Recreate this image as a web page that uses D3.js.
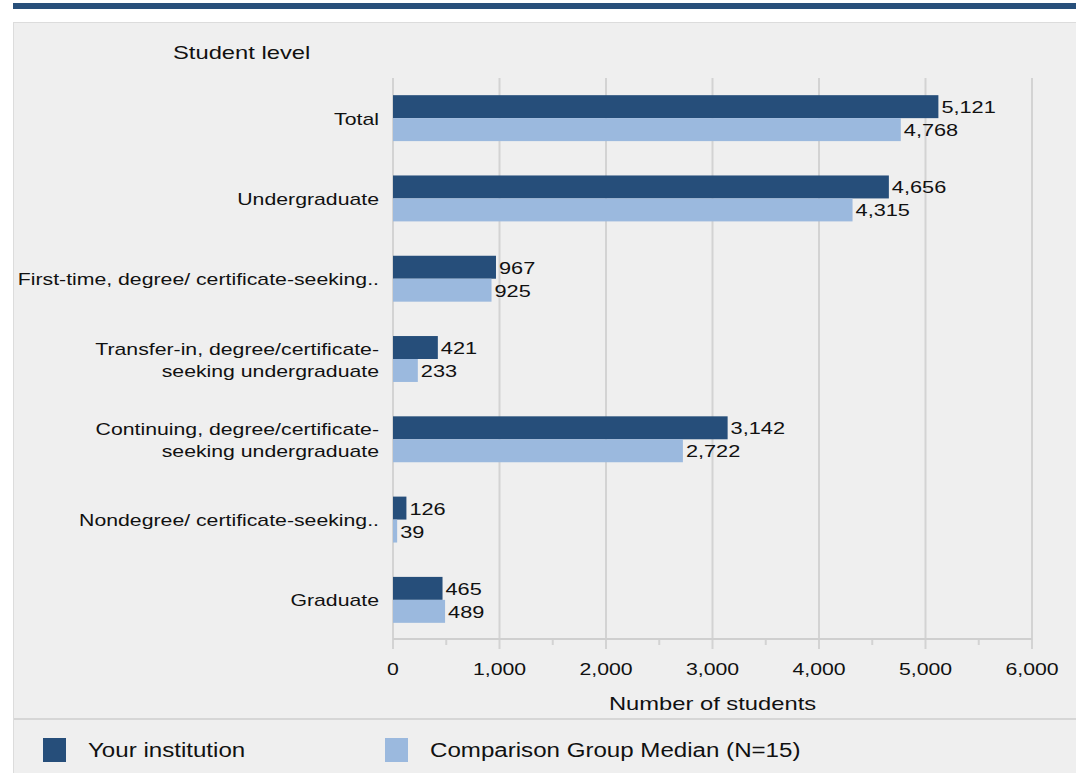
<!DOCTYPE html>
<html><head><meta charset="utf-8">
<script src="https://cdn.jsdelivr.net/npm/d3@7"></script>
<style>html,body{margin:0;padding:0;background:#fff;}svg{display:block;font-family:"Liberation Sans",Arial,sans-serif;}</style>
</head><body>
<script>
const categories = [
  ["Total"],
  ["Undergraduate"],
  ["First-time, degree/ certificate-seeking.."],
  ["Transfer-in, degree/certificate-", "seeking undergraduate"],
  ["Continuing, degree/certificate-", "seeking undergraduate"],
  ["Nondegree/ certificate-seeking.."],
  ["Graduate"]
];
const seriesNames = ["Your institution", "Comparison Group Median (N=15)"];
const yourInstitution = [5121, 4656, 967, 421, 3142, 126, 465];
const comparisonMedian = [4768, 4315, 925, 233, 2722, 39, 489];
const tickValues = [0, 1000, 2000, 3000, 4000, 5000, 6000];
const minorTickValues = [500, 1500, 2500, 3500, 4500, 5500];
const colors = ["#264e7a", "#9bb9de"];

const W = 1076, H = 773;
const SX = 1.25; // horizontal stretch of text in the reference
const svg = d3.select("body").append("svg").attr("width", W).attr("height", H);

function txt(parent, x, y, size, anchor, s) {
  return parent.append("text")
    .attr("transform", `translate(${x},${y}) scale(${SX},1)`)
    .attr("font-size", size).attr("text-anchor", anchor || "start")
    .attr("fill", "#111").text(s);
}

// header bar and panel
svg.append("rect").attr("x", 13).attr("y", 3).attr("width", W - 13).attr("height", 6).attr("fill", "#284f7a");
svg.append("rect").attr("x", 13.5).attr("y", 22.5).attr("width", W).attr("height", H).attr("fill", "#efefef").attr("stroke", "#dcdcdc");
svg.append("line").attr("x1", 14).attr("x2", W).attr("y1", 719).attr("y2", 719).attr("stroke", "#d6d6d6").attr("stroke-width", 2);

txt(svg, 173, 59, 19, "start", "Student level");

const keys = categories.map((c, i) => "c" + i);
const x = d3.scaleLinear().domain([0, 6000]).range([393, 1032]);
const y = d3.scaleBand().domain(keys).range([78, 640]).paddingInner(0.428).paddingOuter(0.214);
const y1 = d3.scaleBand().domain([0, 1]).range([0, y.bandwidth()]);

// grid
const g = svg.append("g");
g.selectAll("line.grid").data(tickValues).join("line")
  .attr("x1", d => x(d)).attr("x2", d => x(d)).attr("y1", 78).attr("y2", 649)
  .attr("stroke", "#d3d3d3").attr("stroke-width", 2);
g.selectAll("line.minor").data(minorTickValues).join("line")
  .attr("x1", d => x(d)).attr("x2", d => x(d)).attr("y1", 639).attr("y2", 645)
  .attr("stroke", "#d3d3d3").attr("stroke-width", 2);
g.append("line").attr("x1", x(0)).attr("x2", x(6000)).attr("y1", 639).attr("y2", 639)
  .attr("stroke", "#cfcfcf").attr("stroke-width", 2);

// axis labels
const fmt = d3.format(",");
tickValues.forEach(d => txt(g, x(d), 675, 17, "middle", fmt(d)));
txt(svg, x(3000), 710, 19, "middle", "Number of students");

// bars
const data = [yourInstitution, comparisonMedian];
data.forEach((vals, si) => {
  const gs = svg.append("g");
  gs.selectAll("rect").data(vals).join("rect")
    .attr("x", x(0)).attr("y", (d, i) => y(keys[i]) + y1(si))
    .attr("width", d => x(d) - x(0)).attr("height", y1.bandwidth())
    .attr("fill", colors[si]);
  vals.forEach((d, i) => {
    txt(gs, x(d) + 3, y(keys[i]) + y1(si) + y1.bandwidth() / 2 + 6.5, 17.4, "start", fmt(d));
  });
});

// category labels
categories.forEach((lines, i) => {
  const cy = y(keys[i]) + y.bandwidth() / 2;
  const lh = 22;
  lines.forEach((ln, j) => {
    txt(svg, 379, cy + 6.5 + (j - (lines.length - 1) / 2) * lh, 17, "end", ln);
  });
});

// legend
const lx = [43, 385];
seriesNames.forEach((n, i) => {
  svg.append("rect").attr("x", lx[i]).attr("y", 738).attr("width", 23).attr("height", 24).attr("fill", colors[i]);
  txt(svg, lx[i] + 45, 757, 19.3, "start", n);
});
</script>
</body></html>
